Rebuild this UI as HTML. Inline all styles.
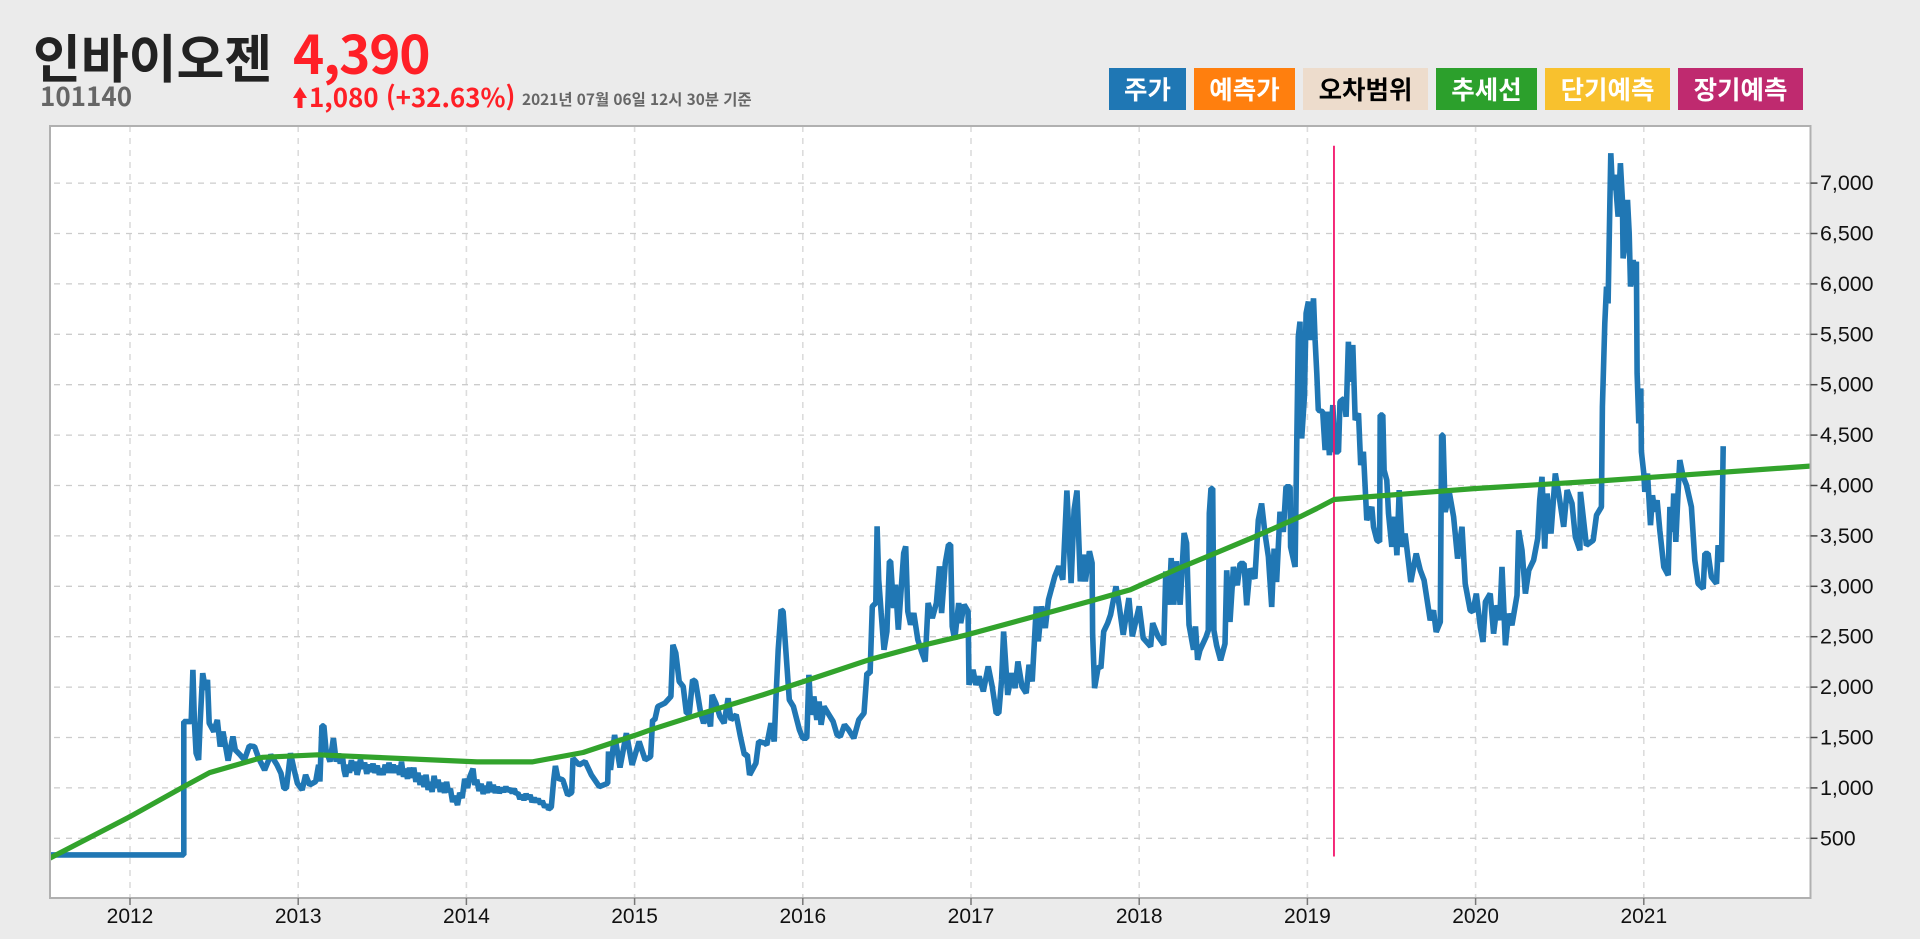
<!DOCTYPE html>
<html lang="ko">
<head>
<meta charset="utf-8">
<title>인바이오젠 101140</title>
<style>
html,body{margin:0;padding:0;width:1920px;height:939px;overflow:hidden;background:#ebebeb;}
body{position:relative;font-family:"Liberation Sans","Noto Sans CJK KR",sans-serif;}
.h{position:absolute;line-height:1;white-space:nowrap;font-family:"Noto Sans CJK KR","Liberation Sans",sans-serif;font-weight:700;}
.btn{position:absolute;top:68px;height:42px;line-height:41px;text-align:center;font-size:25.5px;font-weight:700;color:#fff;font-family:"Noto Sans CJK KR","Liberation Sans",sans-serif;cursor:pointer;}
svg{position:absolute;left:0;top:0;}
</style>
</head>
<body>
<div class="h" style="left:33px;top:30px;font-size:52px;color:#222;">인바이오젠</div>
<div class="h" style="left:293px;top:26px;font-size:53px;letter-spacing:-1.2px;color:#ff1f26;">4,390</div>
<div class="h" style="left:40px;top:83px;font-size:26px;color:#666;">101140</div>
<div class="h" style="left:309px;top:84px;font-size:26px;letter-spacing:-.05px;color:#ff1f26;">1,080 (+32.63%)</div>
<div class="h" style="left:522px;top:92px;font-size:15.4px;color:#666;">2021년 07월 06일 12시 30분 기준</div>

<div class="btn" style="left:1109px;width:77px;background:#1f77b4;">주가</div>
<div class="btn" style="left:1194px;width:101px;background:#ff7f0e;">예측가</div>
<div class="btn" style="left:1303px;width:125px;background:#eddccc;color:#000;">오차범위</div>
<div class="btn" style="left:1436px;width:101px;background:#2ca02c;">추세선</div>
<div class="btn" style="left:1545px;width:125px;background:#f8c12e;">단기예측</div>
<div class="btn" style="left:1678px;width:125px;background:#bf2a6f;">장기예측</div>

<svg id="chart" width="1920" height="939" viewBox="0 0 1920 939" xmlns="http://www.w3.org/2000/svg">
  <polygon points="300,87 307,98 302.5,98 302.5,108 297.5,108 297.5,98 293,98" fill="#ff1f26"/>
  <defs><clipPath id="plot-clip"><rect x="50" y="126" width="1760" height="772"/></clipPath></defs>
  <rect x="50" y="126" width="1760.5" height="772" fill="#fff"/>
  <g id="grid"></g>
  <g id="marks" clip-path="url(#plot-clip)"></g>
  <rect x="50" y="126" width="1760.5" height="772" fill="none" stroke="#b0b0b0" stroke-width="2"/>
  <g id="axes"></g>
</svg>

<script>
var xTickYears = [2012, 2013, 2014, 2015, 2016, 2017, 2018, 2019, 2020, 2021];
var yTickValues = [500, 1000, 1500, 2000, 2500, 3000, 3500, 4000, 4500, 5000, 5500, 6000, 6500, 7000];
var forecastStartYear = 2019.158;
var forecastMarkerValues = [7370, 320];

var trendDates = [2011.52,2012,2012.32,2012.473,2012.789,2013.117,2014.063,2014.39,2014.694,2015.01,2015.095,2015.374,2015.762,2016.005,2016.393,2016.684,2016.976,2017.34,2017.704,2017.947,2018.238,2018.432,2018.708,2018.956,2019.056,2019.158,2019.353,2020,2020.742,2021.987];
var trendValues = [301,715,1013,1152,1304,1328,1258,1258,1351,1526,1576,1725,1923,2056,2271,2403,2519,2685,2850,2966,3181,3314,3507,3689,3772,3861,3887,3970,4046,4192];

var priceDates = [
2011.52,2012.32,2012.32,2012.364,2012.374,2012.383,2012.393,2012.408,2012.417,2012.432,2012.449,2012.461,2012.471,2012.498,2012.519,2012.536,2012.553,2012.583,2012.612,2012.626,2012.655,2012.68,2012.709,2012.74,2012.765,2012.8,2012.837,2012.874,2012.898,2012.915,2012.93,2012.954,2012.976,2012.995,
2013.024,2013.044,2013.068,2013.104,2013.121,2013.129,2013.141,2013.153,2013.165,2013.189,2013.209,2013.226,
2013.24,2013.25,2013.262,2013.272,2013.282,2013.295,2013.305,2013.316,2013.328,2013.34,2013.35,2013.359,2013.37,2013.383,2013.395,2013.408,2013.42,2013.432,2013.445,2013.456,2013.47,2013.482,2013.493,2013.505,2013.517,2013.529,2013.54,2013.552,2013.565,2013.578,2013.59,2013.602,2013.614,2013.626,2013.638,2013.65,2013.662,2013.674,2013.687,2013.7,2013.712,2013.725,2013.735,2013.748,2013.76,2013.772,2013.784,2013.796,2013.808,2013.82,2013.832,2013.845,2013.857,2013.87,2013.882,2013.893,2013.905,2013.918,2013.93,2013.947,2013.96,2013.975,2013.99,
2014.007,2014.02,2014.039,2014.05,2014.062,2014.075,2014.088,2014.1,2014.112,2014.124,2014.136,2014.148,2014.16,2014.172,2014.184,2014.196,2014.21,2014.222,2014.235,2014.245,2014.26,2014.272,2014.285,2014.294,2014.306,2014.318,2014.33,2014.342,2014.355,2014.367,2014.379,2014.39,2014.403,2014.415,2014.427,2014.44,2014.451,2014.465,2014.476,2014.488,2014.505,
2014.519,2014.529,2014.544,2014.573,2014.602,2014.626,2014.634,2014.67,2014.706,2014.743,2014.79,2014.84,2014.845,2014.857,2014.881,2014.913,2014.951,2014.985,
2015.027,2015.063,2015.095,2015.107,2015.12,2015.138,2015.18,2015.216,2015.228,2015.245,2015.265,2015.289,2015.308,2015.325,2015.345,2015.362,2015.393,2015.41,2015.434,2015.451,2015.461,2015.483,2015.507,2015.532,2015.556,2015.573,2015.604,2015.629,2015.653,2015.67,2015.684,2015.721,2015.738,2015.774,2015.786,2015.811,2015.83,2015.84,2015.854,2015.871,2015.883,2015.903,2015.92,2015.944,2015.98,
2016,2016.024,2016.036,2016.049,2016.066,2016.083,2016.097,2016.109,2016.126,2016.15,2016.18,2016.204,2016.223,2016.248,2016.272,2016.303,2016.333,2016.364,2016.381,2016.4,2016.413,2016.434,2016.442,2016.451,2016.466,2016.483,2016.5,2016.515,2016.522,2016.539,2016.551,2016.568,2016.583,2016.6,2016.612,2016.624,2016.641,2016.66,2016.684,2016.709,2016.728,2016.745,2016.77,2016.794,2016.813,2016.825,2016.847,2016.866,2016.879,2016.888,2016.903,2016.927,2016.939,2016.959,2016.983,2016.988,
2017.012,2017.029,2017.049,2017.073,2017.102,2017.126,2017.15,2017.165,2017.182,2017.194,2017.218,2017.243,2017.262,2017.279,2017.303,2017.328,2017.345,2017.364,2017.388,2017.4,2017.42,2017.442,2017.461,2017.498,2017.522,2017.546,2017.57,2017.595,2017.613,2017.63,2017.65,2017.667,2017.68,2017.704,2017.72,2017.723,2017.735,2017.757,2017.772,2017.789,2017.813,2017.83,2017.862,2017.879,2017.905,2017.939,2017.959,
2018,2018.024,2018.068,2018.08,2018.112,2018.146,2018.158,2018.177,2018.19,2018.206,2018.221,2018.243,2018.267,2018.282,2018.296,2018.323,2018.335,2018.347,2018.361,2018.397,2018.411,2018.417,2018.427,2018.437,2018.444,2018.46,2018.484,2018.51,2018.52,2018.54,2018.56,2018.583,2018.6,2018.623,2018.639,2018.659,2018.688,2018.708,2018.728,2018.748,2018.768,2018.788,2018.802,2018.817,2018.837,2018.857,2018.873,2018.897,2018.9,2018.927,2018.937,2018.946,2018.956,2018.966,2018.982,2018.992,
2019.006,2019.016,2019.036,2019.046,2019.056,2019.065,2019.091,2019.105,2019.115,2019.131,2019.151,2019.165,2019.185,2019.194,2019.218,2019.23,2019.244,2019.254,2019.27,2019.284,2019.304,2019.317,2019.333,2019.353,2019.383,2019.393,2019.413,2019.429,2019.433,2019.448,2019.456,2019.472,2019.482,2019.502,2019.518,2019.532,2019.546,2019.565,2019.581,2019.601,2019.615,2019.647,2019.671,2019.694,2019.73,2019.75,2019.766,2019.79,2019.798,2019.806,2019.819,2019.845,2019.869,2019.893,2019.919,2019.938,2019.968,2019.984,
2020.004,2020.028,2020.044,2020.058,2020.087,2020.107,2020.127,2020.143,2020.157,2020.177,2020.196,2020.216,2020.246,2020.256,2020.276,2020.296,2020.316,2020.345,2020.369,2020.381,2020.395,2020.411,2020.425,2020.448,2020.474,2020.494,2020.524,2020.544,2020.573,2020.593,2020.62,2020.623,2020.659,2020.699,2020.719,2020.748,2020.754,2020.768,2020.778,2020.788,2020.798,2020.804,2020.814,2020.828,2020.847,2020.861,2020.873,2020.877,2020.893,2020.903,2020.913,2020.921,2020.937,2020.946,2020.956,2020.96,2020.97,2020.982,2020.986,
2021,2021.006,2021.022,2021.04,2021.052,2021.065,2021.079,2021.095,2021.119,2021.145,2021.155,2021.17,2021.178,2021.19,2021.204,2021.214,2021.234,2021.254,2021.283,2021.303,2021.323,2021.353,2021.363,2021.382,2021.402,2021.432,2021.442,2021.462,2021.472
];
var priceValues = [
335,335,1658,1658,2172,1660,1344,1278,1642,2138,1973,2072,1642,1559,1675,1410,1559,1271,1510,1377,1327,1278,1417,1410,1294,1178,1327,1228,1145,996,996,1344,1178,1046,
980,1129,1030,1063,1228,1063,1615,1615,1377,1261,1493,1261,
1340,1240,1330,1180,1112,1230,1150,1275,1170,1260,1130,1190,1280,1190,1250,1140,1230,1160,1240,1150,1220,1130,1190,1130,1230,1150,1250,1150,1230,1150,1220,1130,1260,1110,1190,1090,1200,1100,1200,1060,1150,1030,1120,1010,1130,980,1060,960,1120,1000,1080,960,1050,950,1060,960,990,860,920,830,950,900,1090,
1000,1110,1190,1030,1080,970,1040,940,1020,950,1060,960,1030,950,1010,950,1000,960,1010,970,990,950,990,940,950,890,930,880,940,890,930,860,900,860,890,840,870,810,830,790,810,
1079,1218,1096,1079,930,953,1294,1228,1261,1129,1013,1046,1361,1179,1526,1202,1543,1228,
1460,1278,1311,1675,1675,1808,1841,1907,2420,2337,2056,2006,1741,1741,2072,2056,1741,1642,1741,1609,1923,1841,1708,1642,1890,1675,1725,1510,1328,1328,1129,1245,1460,1444,1427,1642,1460,1874,2370,2768,2751,2271,1874,1808,1576,
1493,1493,2122,1725,1907,1675,1857,1626,1808,1741,1659,1526,1510,1626,1576,1493,1675,1741,2138,2138,2801,2834,3595,3065,2734,2370,2552,3248,3248,2784,3016,2569,2933,3330,3396,2751,2619,2734,2470,2337,2254,2834,2685,2834,3198,2734,3231,3413,3413,2602,2470,2834,2635,2817,2751,2023,
2172,2023,2105,1957,2205,2006,1741,1741,2072,2552,1923,2139,1990,2254,2006,1940,2221,2056,2801,2453,2801,2586,2867,3099,3198,3065,3950,3032,3760,3950,3049,3314,3049,3347,3231,2536,1990,2205,2188,2552,2635,2718,2999,2834,2519,2883,2503,
2801,2486,2403,2635,2503,2420,3148,2817,3281,2817,3248,2817,3529,3430,2619,2370,2602,2271,2365,2497,2563,3722,3970,3970,2563,2414,2266,2431,3159,2646,3192,3010,3225,3225,2812,3176,3076,3656,3821,3523,3292,2795,3374,3043,3739,3540,3987,3987,3391,3192,4450,5476,5625,4467,4880,5708,
5824,5443,5857,5443,5112,4748,4732,4351,4732,4301,4798,4334,4334,4831,4864,4682,5427,5029,5394,4649,4715,4202,4334,3656,3788,3590,3457,3441,4698,4698,4152,4053,3722,3391,3689,3308,3954,3391,3523,3242,3043,3325,3159,3060,2663,2762,2547,2646,4500,4500,3739,3921,3689,3275,3590,3027,2762,2746,
2928,2597,2448,2845,2928,2530,2812,2663,3192,2415,2729,2613,2911,3556,3358,2928,3159,3259,3474,3854,4086,3374,3921,3523,4119,3921,3590,3954,3821,3490,3358,3937,3407,3457,3705,3788,4781,5609,5973,5807,6767,7297,6933,7082,6668,7197,6833,6254,6436,6833,6502,5973,6238,5989,6221,5112,4616,4963,4334,
4119,3937,4119,3606,3904,3739,3854,3556,3192,3110,3788,3540,3921,3440,3937,4252,4086,4003,3788,3259,3027,2977,3325,3325,3093,3027,3407,3242,4390
];

var NS = 'http://www.w3.org/2000/svg';
var plotLeft = 50, plotRight = 1810.5, plotTop = 126, plotBottom = 898;
function xScale(year){ return 130 + (year - 2012) * 168.2; }
function yScale(value){ return 838.3 - (value - 500) * 0.1008; }
function make(parent, tag, attrs){
  var el = document.createElementNS(NS, tag);
  for (var k in attrs) el.setAttribute(k, attrs[k]);
  parent.appendChild(el);
  return el;
}
function pathFrom(dates, values){
  var d = '';
  for (var i = 0; i < dates.length; i++){
    d += (i ? 'L' : 'M') + xScale(dates[i]).toFixed(1) + ' ' + yScale(values[i]).toFixed(1);
  }
  return d;
}
var grid = document.getElementById('grid');
var marks = document.getElementById('marks');
var axes = document.getElementById('axes');

xTickYears.forEach(function(yr){
  var px = xScale(yr);
  var g = make(grid, 'line', {x1:px, x2:px, y1:plotTop, y2:plotBottom, stroke:'#dcdcdc', 'stroke-width':1.6, 'stroke-dasharray':'6 6'});
  
  
  var t = make(axes, 'line', {x1:px, x2:px, y1:plotBottom, y2:plotBottom + 7, stroke:'#777', 'stroke-width':1.5});
  
  
  var lab = make(axes, 'text', {x:px, y:923, 'text-anchor':'middle', 'font-size':21, fill:'#111', 'font-family':'"Liberation Sans",sans-serif'});
  
  
  lab.textContent = yr;
});
yTickValues.forEach(function(v){
  var py = yScale(v);
  var g = make(grid, 'line', {x1:plotLeft + 4, x2:plotRight, y1:py, y2:py, stroke:'#cccccc', 'stroke-width':1.3, 'stroke-dasharray':'6 6'});
  
  
  var t = make(axes, 'line', {x1:plotRight, x2:plotRight + 7, y1:py, y2:py, stroke:'#444', 'stroke-width':1.5});
  
  
  var lab = make(axes, 'text', {x:1820, y:py + 7, 'font-size':21.4, fill:'#111', 'font-family':'"Liberation Sans",sans-serif'});
  
  
  lab.textContent = v.toLocaleString('en-US');
});

var priceLine = make(marks, 'path', {d:pathFrom(priceDates, priceValues), fill:'none', stroke:'#2077b4', 'stroke-width':5.6, 'stroke-linejoin':'bevel'});



var markerX = xScale(forecastStartYear);
var marker = make(marks, 'line', {x1:markerX, x2:markerX, y1:yScale(forecastMarkerValues[0]), y2:yScale(forecastMarkerValues[1]), stroke:'#f3146c', 'stroke-width':1.8});



var trendLine = make(marks, 'path', {d:pathFrom(trendDates, trendValues), fill:'none', stroke:'#32a32c', 'stroke-width':5.2, 'stroke-linejoin':'round'});


</script>
</body>
</html>
